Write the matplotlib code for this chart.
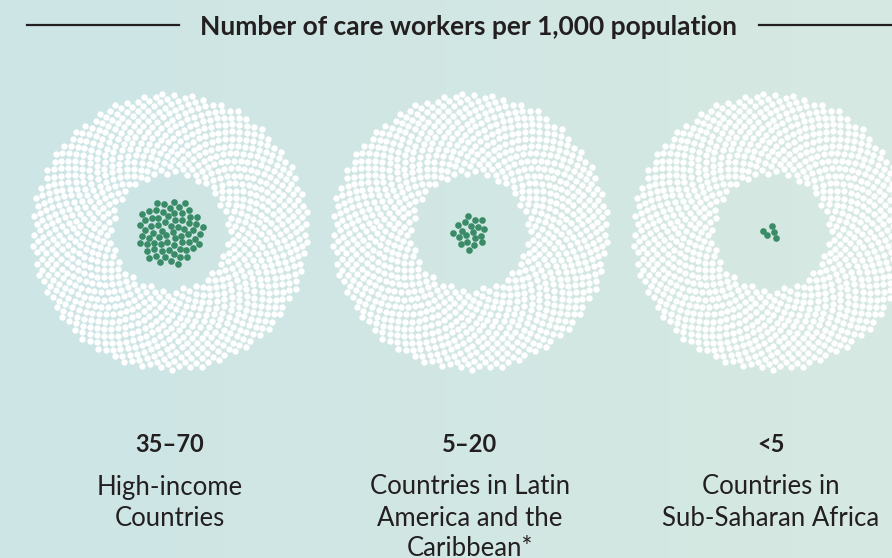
import numpy as np
import matplotlib.pyplot as plt
from matplotlib.colors import LinearSegmentedColormap

# care workers per 1,000 population (dots drawn in green)
care_workers = [70, 20, 5]
population = 1000
ranges = ["35\u201370", "5\u201320", "<5"]
regions = ["High-income\nCountries",
           "Countries in Latin\nAmerica and the\nCaribbean*",
           "Countries in\nSub-Saharan Africa"]

W, H = 892, 558
centers_x = [170, 470, 771]
center_y = 232
spacing = 4.0        # px, sunflower scale
ring_start = 203     # first index of the white ring
golden = np.pi * (3 - np.sqrt(5))

green = '#3a8c68'
ink = '#231f20'


def sunflower(idx):
    r = spacing * np.sqrt(idx + 0.5)
    t = idx * golden
    return r * np.cos(t), r * np.sin(t)


fig = plt.figure(figsize=(W / 100, H / 100), dpi=100)
ax = fig.add_axes([0, 0, 1, 1])
ax.set_xlim(0, W)
ax.set_ylim(H, 0)
ax.axis('off')

# background gradient
bg = LinearSegmentedColormap.from_list('bg', ['#cde5e6', '#d6e9e1'])
grad = np.linspace(0, 1, 256).reshape(1, -1)
ax.imshow(grad, cmap=bg, extent=[0, W, H, 0], aspect='auto', zorder=0)

for cx, n, rng, reg in zip(centers_x, care_workers, ranges, regions):
    wx, wy = sunflower(np.arange(ring_start, ring_start + population))
    ax.scatter(cx + wx, center_y + wy, s=21, color='white', linewidths=0, zorder=2)
    gx, gy = sunflower(np.arange(n))
    ax.scatter(cx + gx, center_y + gy, s=23, color=green, linewidths=0, zorder=3)
    ax.text(cx, 445, rng, ha='center', va='center', fontsize=17,
            fontweight='bold', family='Lato', color=ink)
    for k, line in enumerate(reg.split('\n')):
        ax.text(cx, 487 + 31 * k, line, ha='center', va='center', fontsize=18.5,
                family='Lato', color=ink)

# title with rules either side
ax.text(469, 27, "Number of care workers per 1,000 population", ha='center',
        va='center', fontsize=19, fontweight='bold', family='Lato', color=ink)
ax.plot([27, 179], [25, 25], color=ink, lw=1.6, zorder=4)
ax.plot([759, W], [25, 25], color=ink, lw=1.6, zorder=4)

fig.savefig('out.png', dpi=100)
